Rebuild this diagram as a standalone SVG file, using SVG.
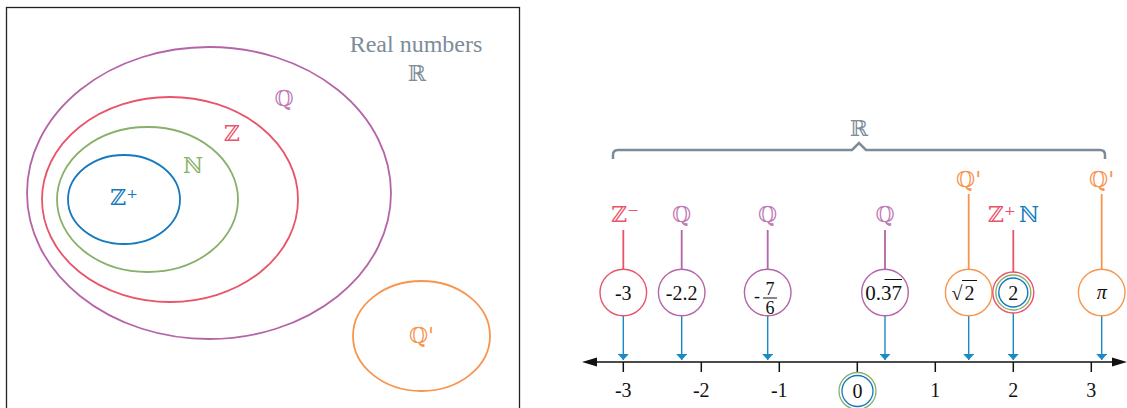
<svg xmlns="http://www.w3.org/2000/svg" width="1127" height="408" viewBox="0 0 1127 408">
<style>
.serif{fill:#111;}
.num{font-size:20px;text-anchor:middle;}
.sym{font-size:22px;text-anchor:middle;}
.ell{fill:none;stroke-width:1.8;}
.nc{fill:#fff;stroke-width:1.4;}
.stem{fill:none;stroke-width:1.8;}
.arr{stroke:#1a8ac6;stroke-width:1.4;fill:none;marker-end:url(#ah);}
.gray{fill:#7d8c99;} .sgray{stroke:#7d8c99;}
.pur{fill:#c07ab6;} .spur{stroke:#b565a7;}
.red{fill:#e9546b;} .sred{stroke:#e9546b;}
.grn{fill:#88b06a;} .sgrn{stroke:#88b06a;}
.blu{fill:#1479bd;} .sblu{stroke:#1479bd;}
.org{fill:#f7954f;} .sorg{stroke:#f7954f;}
</style>
<defs>
<marker id="ah" viewBox="0 0 6 11" refX="6" refY="5.5" markerWidth="6" markerHeight="11" markerUnits="userSpaceOnUse" orient="auto-start-reverse">
<path d="M0,0 L6,5.5 L0,11 Z" fill="#1a8ac6"/>
</marker>
</defs>
<rect width="1127" height="408" fill="#fff"/>

<g font-family="Liberation Serif, Times New Roman, serif">
<!-- Left Venn panel -->
<g id="venn-frame"><rect x="6.5" y="7.5" width="513" height="412" fill="none" stroke="#222" stroke-width="1.3"/></g>
<g id="real-label">
<text x="416" y="52" text-anchor="middle" font-size="24" fill="#7d8c99" font-family="Liberation Serif, serif">Real numbers</text>
<text class="sym gray" x="417" y="81" font-family="DejaVu Serif, DejaVu Sans, serif">ℝ</text>
</g>
<g font-family="DejaVu Serif, DejaVu Sans, serif">
<g id="set-Q"><ellipse class="ell spur" cx="209" cy="193" rx="182" ry="146"/><text class="sym pur" x="284" y="106">ℚ</text></g>
<g id="set-Z"><ellipse class="ell sred" cx="170" cy="199.5" rx="128" ry="102.5"/><text class="sym red" x="232" y="141">ℤ</text></g>
<g id="set-N"><ellipse class="ell sgrn" cx="147.5" cy="199.5" rx="90.5" ry="72.5"/><text class="sym grn" x="193" y="173">ℕ</text></g>
<g id="set-Zplus"><ellipse class="ell sblu" cx="124" cy="199.5" rx="56" ry="44.5"/><text class="sym blu" x="124" y="205">ℤ⁺</text></g>
<g id="set-Qprime"><ellipse class="ell sorg" cx="421.5" cy="336" rx="68.5" ry="55"/><text class="sym org" x="421.5" y="343">ℚ'</text></g>
</g>

<!-- Right number line panel -->
<g id="brace">
<path d="M613,159 L613,155 Q613,150 618,150 L852,150 L859,143 L866,150 L1100,150 Q1105,150 1105,155 L1105,159" fill="none" class="sgray" stroke-width="2.5"/>
<text class="sym gray" x="859" y="136" font-family="DejaVu Serif, DejaVu Sans, serif">ℝ</text>
</g>

<g id="number-line">
<line x1="595" y1="362" x2="1114" y2="362" stroke="#111" stroke-width="1.5"/>
<polygon points="582,362 597,357.5 597,366.5" fill="#111"/>
<polygon points="1127,362 1112,357.5 1112,366.5" fill="#111"/>
<g stroke="#111" stroke-width="1.5">
<line x1="623.3" y1="362" x2="623.3" y2="372"/>
<line x1="701.3" y1="362" x2="701.3" y2="372"/>
<line x1="779.3" y1="362" x2="779.3" y2="372"/>
<line x1="857.3" y1="362" x2="857.3" y2="372"/>
<line x1="935.3" y1="362" x2="935.3" y2="372"/>
<line x1="1013.3" y1="362" x2="1013.3" y2="372"/>
<line x1="1091.3" y1="362" x2="1091.3" y2="372"/>
</g>
<g class="serif num" font-family="Liberation Serif, serif">
<text x="623.3" y="397">-3</text>
<text x="701.3" y="397">-2</text>
<text x="779.3" y="397">-1</text>
<text x="935.3" y="397">1</text>
<text x="1013.3" y="397">2</text>
<text x="1091.3" y="397">3</text>
</g>
</g>

<g id="zero">
<circle cx="857.5" cy="391" r="18.5" fill="#fff" class="sgrn" stroke-width="1.3"/>
<circle cx="857.5" cy="391" r="15.5" fill="none" class="sblu" stroke-width="1.3"/>
<text class="serif num" x="857.5" y="398" font-family="Liberation Serif, serif">0</text>
</g>

<g id="connectors">
<line class="stem sred" x1="623.3" y1="230" x2="623.3" y2="269"/>
<line class="stem spur" x1="681.7" y1="230" x2="681.7" y2="269"/>
<line class="stem spur" x1="767.7" y1="230" x2="767.7" y2="269"/>
<line class="stem spur" x1="885" y1="230" x2="885" y2="269"/>
<line class="stem sorg" x1="968.7" y1="194" x2="968.7" y2="269"/>
<line class="stem sred" x1="1013.3" y1="230" x2="1013.3" y2="272"/>
<line class="stem sorg" x1="1101.7" y1="194" x2="1101.7" y2="269"/>
<line class="arr" x1="623.3" y1="316" x2="623.3" y2="360"/>
<line class="arr" x1="681.7" y1="316" x2="681.7" y2="360"/>
<line class="arr" x1="767.7" y1="316" x2="767.7" y2="360"/>
<line class="arr" x1="885" y1="316" x2="885" y2="360"/>
<line class="arr" x1="968.7" y1="316" x2="968.7" y2="360"/>
<line class="arr" x1="1013.3" y1="313" x2="1013.3" y2="360"/>
<line class="arr" x1="1101.7" y1="316" x2="1101.7" y2="360"/>
</g>

<g font-family="Liberation Serif, serif">
<g id="n-minus3">
<text class="sym red" x="625" y="222" font-family="DejaVu Serif, DejaVu Sans, serif">ℤ⁻</text>
<circle class="nc sred" cx="623.3" cy="292.5" r="23.3"/>
<text class="serif num" x="623.3" y="299.5">-3</text>
</g>
<g id="n-minus2-2">
<text class="sym pur" x="681.7" y="222" font-family="DejaVu Serif, DejaVu Sans, serif">ℚ</text>
<circle class="nc spur" cx="681.7" cy="292.5" r="23.3"/>
<text class="serif num" x="681.7" y="299.5">-2.2</text>
</g>
<g id="n-minus7-6">
<text class="sym pur" x="767.7" y="222" font-family="DejaVu Serif, DejaVu Sans, serif">ℚ</text>
<circle class="nc spur" cx="767.7" cy="292.5" r="23.3"/>
<text class="serif" x="757" y="302" font-size="18" text-anchor="middle">-</text>
<text class="serif" x="770" y="294.5" font-size="18" text-anchor="middle">7</text>
<line x1="763" y1="298" x2="777" y2="298" stroke="#111" stroke-width="1"/>
<text class="serif" x="770" y="313.5" font-size="18" text-anchor="middle">6</text>
</g>
<g id="n-0-37">
<text class="sym pur" x="885" y="222" font-family="DejaVu Serif, DejaVu Sans, serif">ℚ</text>
<circle class="nc spur" cx="885" cy="292.5" r="23.3"/>
<text class="serif" x="883.5" y="299.5" font-size="21" text-anchor="middle">0.37</text>
<line x1="884.5" y1="279.5" x2="902" y2="279.5" stroke="#111" stroke-width="1"/>
</g>
<g id="n-sqrt2">
<text class="sym org" x="968.7" y="187" font-family="DejaVu Serif, DejaVu Sans, serif">ℚ'</text>
<circle class="nc sorg" cx="968.7" cy="292.5" r="23.3"/>
<text class="serif" x="957" y="300" font-size="20" text-anchor="middle">√</text>
<line x1="962" y1="280.5" x2="977" y2="280.5" stroke="#111" stroke-width="1"/>
<text class="serif" x="969.5" y="299.5" font-size="20" text-anchor="middle">2</text>
</g>
<g id="n-2">
<text class="red" x="988" y="222" font-size="22" font-family="DejaVu Serif, DejaVu Sans, serif">ℤ⁺</text>
<text class="blu" x="1019" y="222" font-size="22" font-family="DejaVu Serif, DejaVu Sans, serif">ℕ</text>
<circle class="nc sred" cx="1013.3" cy="292.5" r="20.5"/>
<circle fill="none" class="sgrn" stroke-width="1.4" cx="1013.3" cy="292.5" r="17.5"/>
<circle fill="none" class="sblu" stroke-width="1.4" cx="1013.3" cy="292.5" r="14.5"/>
<text class="serif num" x="1013.3" y="299.5">2</text>
</g>
<g id="n-pi">
<text class="sym org" x="1101.7" y="187" font-family="DejaVu Serif, DejaVu Sans, serif">ℚ'</text>
<circle class="nc sorg" cx="1101.7" cy="292.5" r="23.3"/>
<text class="serif num" x="1101.7" y="299" font-style="italic">π</text>
</g>
</g>
</g>
</svg>
